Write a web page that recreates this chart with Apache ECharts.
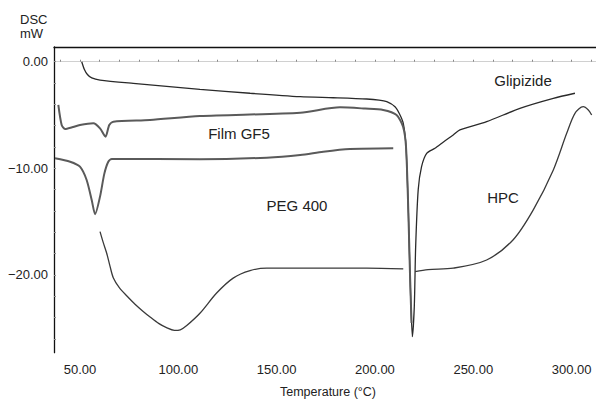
<!DOCTYPE html>
<html>
<head>
<meta charset="utf-8">
<script src="https://cdn.jsdelivr.net/npm/echarts@6/dist/echarts.min.js"></script>
<style>
html,body{margin:0;padding:0;background:#fff;}
#chart{width:596px;height:400px;}
</style>
</head>
<body>
<div id="chart"></div>
<script>
// ---- Data ----
var xTickLabels = [50, 100, 150, 200, 250, 300];
var yTickLabels = [0, -10, -20];

var glipizideT = [50.9, 52.2, 53.8, 56, 60.2, 77.1, 111, 136.5, 162, 178.8, 195.8, 202.1, 206, 210.2, 212.5, 214.4, 215.8, 217, 217.8, 219, 220, 220.7, 222, 223.7, 226.3, 230.5, 235, 239.8, 243.2, 256.8, 273.7, 290.7, 301.7];
var glipizideY = [0, -0.7, -1.2, -1.52, -1.72, -2.03, -2.59, -2.96, -3.28, -3.38, -3.5, -3.6, -3.75, -4.22, -4.9, -5.78, -7.97, -14.2, -19.84, -25.8, -23, -17.35, -12.0, -9.85, -8.6, -8.12, -7.5, -6.87, -6.4, -5.63, -4.37, -3.43, -2.96];

var filmT = [39, 40.7, 42.4, 46, 50, 56.8, 60.2, 63, 64.9, 67, 85.6, 111, 162, 182.2, 195, 204.2, 211, 214.3, 215.8, 217, 217.8, 218.6];
var filmY = [-4.06, -5.94, -6.31, -6.15, -5.94, -5.78, -6.25, -7.03, -5.94, -5.63, -5.47, -5.1, -4.78, -4.28, -4.4, -4.53, -5.0, -6.1, -8.0, -14.2, -19.8, -24.5];

var pegT = [37.3, 45, 50, 53.4, 56, 57.7, 60.2, 62.4, 64.4, 66.2, 111, 145, 162, 173.7, 187.3, 209.3];
var pegY = [-9.06, -9.38, -9.85, -11.1, -13.0, -14.3, -12.66, -10.5, -9.38, -9.12, -9.15, -9.0, -8.75, -8.44, -8.19, -8.12];

var hpcT = [60.2, 61.9, 63.6, 65.3, 67, 70, 74, 78, 82, 86, 90, 94, 98, 101, 104.3, 111, 119.5, 127.9, 136.5, 145, 162, 195.8, 214.4, 217, 220.4, 227, 239.8, 256.8, 270.3, 280.5, 290.7, 297.5, 301.7, 305.9, 308.5, 310.2];
var hpcY = [-15.94, -17.0, -17.97, -19.2, -20.3, -21.2, -22.0, -22.75, -23.4, -24.0, -24.55, -24.95, -25.2, -25.15, -24.75, -23.6, -21.7, -20.3, -19.6, -19.37, -19.37, -19.37, -19.44, null, -19.7, -19.5, -19.37, -18.6, -16.7, -13.9, -10.15, -6.72, -4.84, -4.22, -4.53, -5.0];

var seriesNames = ['Glipizide', 'Film GF5', 'PEG 400', 'HPC'];

function zip(a, b) { return a.map(function (v, i) { return [v, b[i]]; }); }

var xTicks = [];
for (var t = 40; t <= 310; t += 10) xTicks.push(t);
var yTicks = [];
for (var v = 0; v >= -26; v -= 2) yTicks.push(v);

function fmt(v) {
  var s = Math.abs(v).toFixed(2);
  return v < 0 ? '\u2212' + s : s;
}

var chart = echarts.init(document.getElementById('chart'), null, { renderer: 'svg' });
var font = 'Liberation Sans, Arial, sans-serif';
var option = {
  animation: false,
  backgroundColor: '#fff',
  grid: { left: 54, right: 0, top: 47, bottom: 47.3 },
  xAxis: [{
    type: 'value', min: 36.8, max: 312.4,
    axisLine: { show: true, lineStyle: { color: '#d0d0d0', width: 1 } },
    axisTick: { show: true, inside: true, length: 2, customValues: xTicks, lineStyle: { color: '#888' } },
    axisLabel: { customValues: xTickLabels, formatter: fmt, color: '#222', fontSize: 13, fontFamily: font, margin: 10 },
    splitLine: { show: false }
  }, {
    type: 'value', min: 36.8, max: 312.4, position: 'top',
    axisLine: { show: true, lineStyle: { color: '#111', width: 1.3 } },
    axisTick: { show: false }, axisLabel: { show: false }, splitLine: { show: false }
  }],
  yAxis: {
    type: 'value', min: -27.3, max: 1.38,
    axisLine: { show: true, lineStyle: { color: '#111', width: 1.3 } },
    axisTick: { show: true, inside: true, length: 2, customValues: yTicks, lineStyle: { color: '#888' } },
    axisLabel: { customValues: yTickLabels, formatter: fmt, color: '#222', fontSize: 13, fontFamily: font, margin: 6 },
    splitLine: { show: false }
  },
  series: [
    { name: seriesNames[0], type: 'line', data: zip(glipizideT, glipizideY), showSymbol: false, symbol: 'none', smooth: 0.25,
      lineStyle: { color: '#2a2a2a', width: 1.3 } },
    { name: seriesNames[1], type: 'line', data: zip(filmT, filmY), showSymbol: false, symbol: 'none', smooth: 0.25,
      lineStyle: { color: '#5a5a5a', width: 2 } },
    { name: seriesNames[2], type: 'line', data: zip(pegT, pegY), showSymbol: false, symbol: 'none', smooth: 0.25,
      lineStyle: { color: '#5a5a5a', width: 2 } },
    { name: seriesNames[3], type: 'line', data: zip(hpcT, hpcY), showSymbol: false, symbol: 'none', connectNulls: false, smooth: 0.3,
      lineStyle: { color: '#3a3a3a', width: 1.3 } }
  ],
  graphic: [
    { type: 'text', left: 20, top: 13, style: { text: 'DSC', fontSize: 13, fontFamily: font, fill: '#222' } },
    { type: 'text', left: 20, top: 27, style: { text: 'mW', fontSize: 13, fontFamily: font, fill: '#222' } },
    { type: 'text', x: 328, y: 392, style: { text: 'Temperature (\u00B0C)', fontSize: 12.5, fontFamily: font, fill: '#222', align: 'center', verticalAlign: 'middle' } },
    { type: 'text', x: 523, y: 80, style: { text: seriesNames[0], fontSize: 15, fontFamily: font, fill: '#222', align: 'center', verticalAlign: 'middle' } },
    { type: 'text', x: 239, y: 133, style: { text: seriesNames[1], fontSize: 15, fontFamily: font, fill: '#222', align: 'center', verticalAlign: 'middle' } },
    { type: 'text', x: 297, y: 205, style: { text: seriesNames[2], fontSize: 15, fontFamily: font, fill: '#222', align: 'center', verticalAlign: 'middle' } },
    { type: 'text', x: 503, y: 197, style: { text: seriesNames[3], fontSize: 15, fontFamily: font, fill: '#222', align: 'center', verticalAlign: 'middle' } }
  ]
};
chart.setOption(option);
</script>
</body>
</html>
